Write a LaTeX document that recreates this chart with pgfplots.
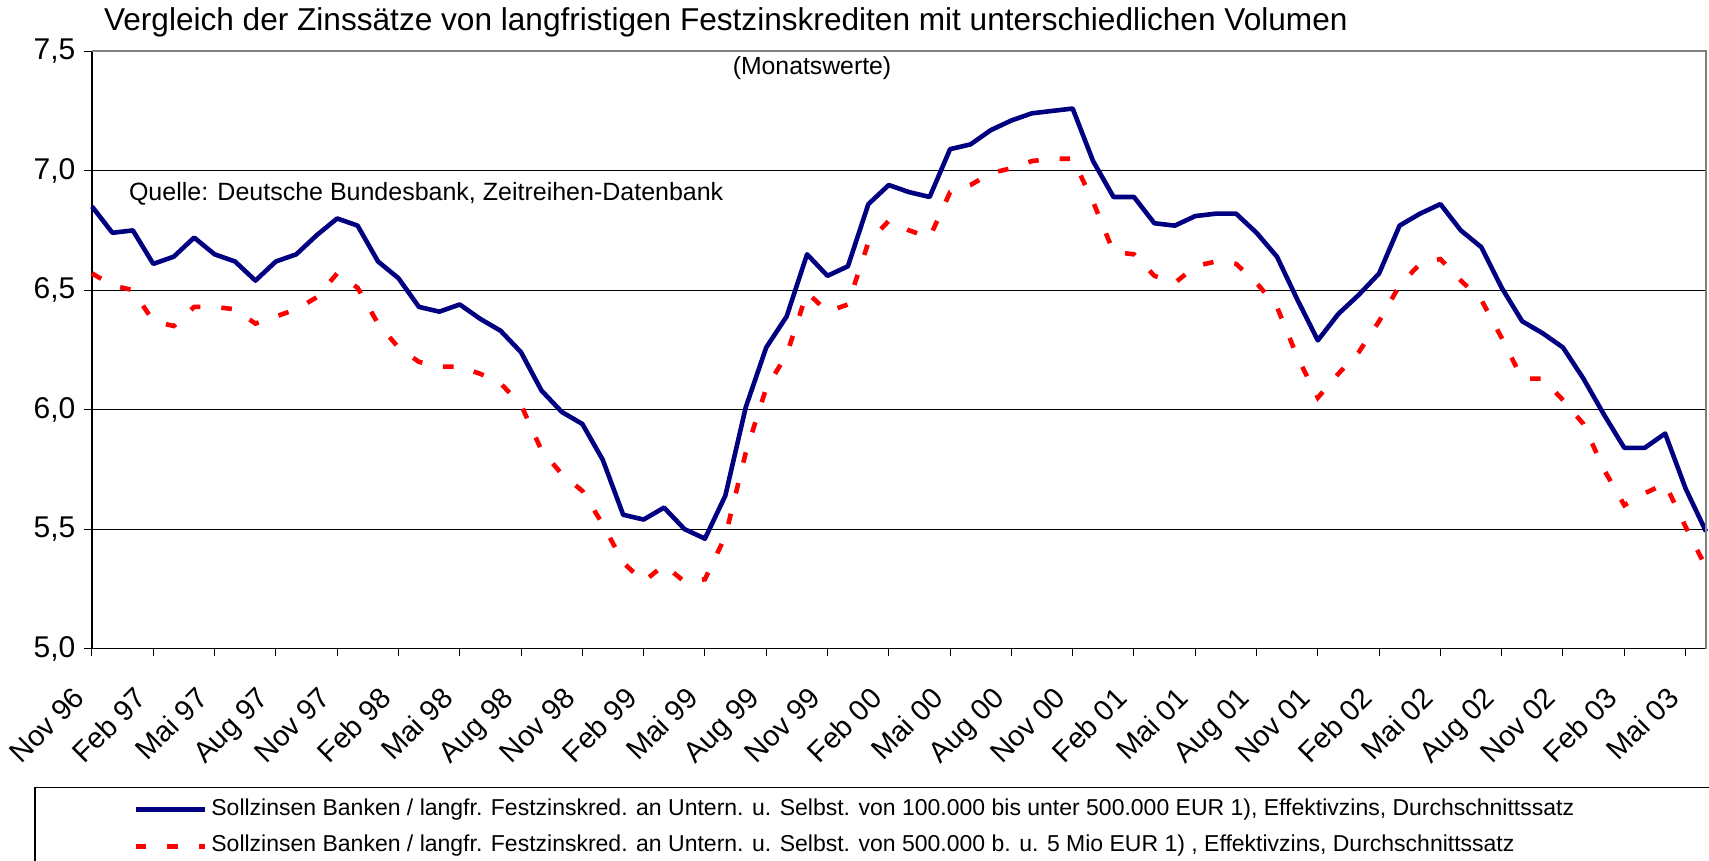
\documentclass[border=0pt]{standalone}
\usepackage{fontspec}
\setmainfont{Liberation Sans}
\usepackage{pgfplots}
\usepackage{pgfplotstable}
\pgfplotsset{compat=1.18}

\pgfplotstableread{
x a b
0 6.85 6.57
1 6.74 6.52
2 6.75 6.50
3 6.61 6.37
4 6.64 6.35
5 6.72 6.43
6 6.65 6.43
7 6.62 6.42
8 6.54 6.36
9 6.62 6.39
10 6.65 6.42
11 6.73 6.47
12 6.80 6.57
13 6.77 6.51
14 6.62 6.36
15 6.55 6.26
16 6.43 6.20
17 6.41 6.18
18 6.44 6.18
19 6.38 6.15
20 6.33 6.11
21 6.24 6.02
22 6.08 5.83
23 5.99 5.73
24 5.94 5.66
25 5.79 5.52
26 5.56 5.36
27 5.54 5.28
28 5.59 5.35
29 5.50 5.28
30 5.46 5.29
31 5.64 5.47
32 6.01 5.82
33 6.26 6.09
34 6.39 6.23
35 6.65 6.49
36 6.56 6.41
37 6.60 6.44
38 6.86 6.70
39 6.94 6.79
40 6.91 6.75
41 6.89 6.72
42 7.09 6.91
43 7.11 6.94
44 7.17 6.99
45 7.21 7.01
46 7.24 7.04
47 7.25 7.05
48 7.26 7.05
49 7.04 6.87
50 6.89 6.66
51 6.89 6.65
52 6.78 6.56
53 6.77 6.53
54 6.81 6.60
55 6.82 6.62
56 6.82 6.61
57 6.74 6.53
58 6.64 6.43
59 6.46 6.22
60 6.29 6.05
61 6.40 6.15
62 6.48 6.24
63 6.57 6.37
64 6.77 6.52
65 6.82 6.61
66 6.86 6.63
67 6.75 6.54
68 6.68 6.46
69 6.51 6.30
70 6.37 6.13
71 6.32 6.13
72 6.26 6.04
73 6.13 5.94
74 5.98 5.75
75 5.84 5.60
76 5.84 5.65
77 5.90 5.69
78 5.67 5.51
79 5.49 5.34
}\data

\definecolor{navyblue}{HTML}{000080}
\definecolor{bordergray}{HTML}{808080}

\begin{document}
\begin{tikzpicture}[x=1pt,y=1pt]
\useasboundingbox (0,0) rectangle (854.5,430.5);
\begin{axis}[
  at={(46pt,106.2pt)}, anchor=south west,
  scale only axis, width=807pt, height=298.7pt,
  xmin=0, xmax=79, ymin=5, ymax=7.5,
  axis lines=left, axis line style={-, black, line width=0.6pt},
  xtick={0,3,...,78},
  xticklabels={Nov 96, Feb 97, Mai 97, Aug 97, Nov 97, Feb 98, Mai 98, Aug 98, Nov 98, Feb 99, Mai 99, Aug 99, Nov 99, Feb 00, Mai 00, Aug 00, Nov 00, Feb 01, Mai 01, Aug 01, Nov 01, Feb 02, Mai 02, Aug 02, Nov 02, Feb 03, Mai 03},
  ytick={5,5.5,6,6.5,7,7.5},
  tick align=outside, major tick length=3.8pt,
  tick style={black, line width=0.5pt},
  ymajorgrids, grid style={black, line width=0.5pt},
  yticklabel style={font=\fontsize{15}{18}\selectfont, xshift=-1pt, /pgf/number format/.cd, fixed, fixed zerofill, precision=1, use comma, assume math mode=true},
  xticklabel style={font=\fontsize{14.5}{17}\selectfont, xshift=-10pt, yshift=-11.5pt, rotate=45, anchor=north east, inner sep=2pt},
  legend style={at={(0.0254,-0.3000)}, anchor=west, draw=none, fill=none, inner sep=0pt,
     font=\fontsize{11.5}{13.5}\selectfont, row sep=7pt,
     nodes={inner sep=0.5pt, text height=8pt, text depth=2.4pt},
     /tikz/every odd column/.append style={column sep=1.5pt}},
  legend cell align=left,
  legend image code/.code={\draw[#1] (0pt,0pt) -- (34.7pt,0pt);},
  clip=false,
]
\addplot[navyblue, line width=2.3pt, line join=round] table[x=x, y=a] {\data};
\addlegendentry{Sollzinsen Banken / langfr. Festzinskred. an Untern. u. Selbst. von 100.000 bis unter 500.000 EUR 1), Effektivzins, Durchschnittssatz}
\addplot[red, line width=2.3pt, dash pattern=on 5.3pt off 10.5pt] table[x=x, y=b] {\data};
\addlegendentry{Sollzinsen Banken / langfr. Festzinskred. an Untern. u. Selbst. von 500.000 b. u. 5 Mio EUR 1) , Effektivzins, Durchschnittssatz}
\draw[bordergray, line width=1pt] (rel axis cs:0,1) -- (rel axis cs:1,1) -- (rel axis cs:1,0);
\end{axis}
\node[anchor=base west, font=\fontsize{15.8}{19}\selectfont, inner sep=0pt] at (51.8,415.3) {Vergleich der Zinssätze von langfristigen Festzinskrediten mit unterschiedlichen Volumen};
\node[font=\fontsize{12.4}{15}\selectfont, inner sep=0pt] at (406,396.7) {(Monatswerte)};
\node[anchor=west, font=\fontsize{12.5}{15}\selectfont, inner sep=0pt] at (64.3,333.5) {Quelle: Deutsche Bundesbank, Zeitreihen-Datenbank};
\draw[black, line width=0.6pt] (17.5,-10) rectangle (880,36.85);
\end{tikzpicture}
\end{document}
